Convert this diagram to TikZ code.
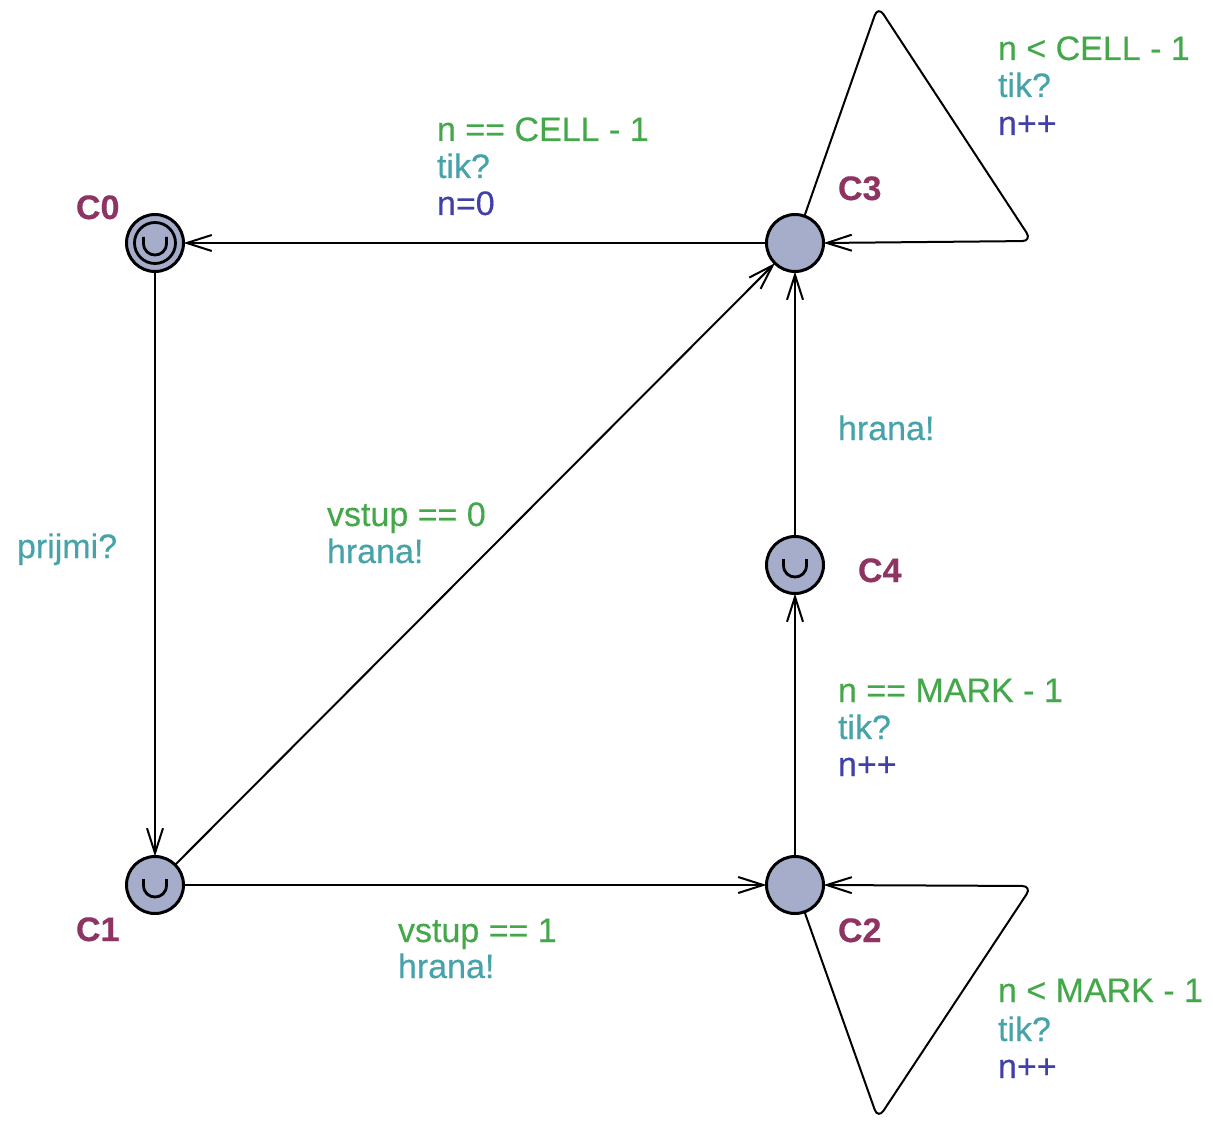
\documentclass[tikz,border=0pt]{standalone}
\usepackage{fontspec}
\setmainfont{Liberation Sans}[FakeBold=0.35]
\usetikzlibrary{arrows.meta}

\definecolor{guardc}{RGB}{68,168,74}
\definecolor{syncc}{RGB}{70,163,170}
\definecolor{updc}{RGB}{64,64,168}
\definecolor{namec}{RGB}{142,52,98}
\definecolor{locfill}{RGB}{165,173,203}

\begin{document}
\begin{tikzpicture}[x=0.5pt, y=-0.5pt,
  every node/.style={font=\fontsize{17pt}{19pt}\selectfont, inner sep=0pt, outer sep=0pt},
  loc/.style={circle, draw=black, fill=locfill, line width=1.5pt, minimum size=28.5pt},
  edge/.style={draw=black, line width=1pt, -{Straight Barb[length=12.5pt, width=8pt, line width=1pt]}},
  locsym/.style={draw=black, line width=1.4pt},
  lname/.style={anchor=base west, text=namec, font=\fontsize{17pt}{19pt}\selectfont\bfseries},
  guard/.style={anchor=base west, text=guardc},
  sync/.style={anchor=base west, text=syncc},
  upd/.style={anchor=base west, text=updc}]

  \useasboundingbox (0,0) rectangle (1213,1122);

  % locations
  \node[loc] (C0) at (155,243) {};
  \node[loc] (C3) at (795,243) {};
  \node[loc] (C4) at (795,565) {};
  \node[loc] (C1) at (155,885) {};
  \node[loc] (C2) at (795,885) {};

  % initial marker and urgent symbols
  \draw[locsym] (C0.center) circle[radius=20.5];
  \foreach \c in {C0,C1,C4}{
    \begin{scope}[shift={(\c.center)}]
      \draw[locsym] (-11.5,-6) -- (-11.5,0) .. controls (-11.5,16) and (11.5,16) .. (11.5,0) -- (11.5,-6);
    \end{scope}
  }

  % location names
  \node[lname] (nC0) at (76,219) {C0};
  \node[lname] (nC3) at (838,200) {C3};
  \node[lname] (nC4) at (858,582) {C4};
  \node[lname] (nC1) at (76,941) {C1};
  \node[lname] (nC2) at (838,942) {C2};

  % transitions
  \draw[edge] (C3) -- (C0);
  \draw[edge] (C0) -- (C1);
  \draw[edge] (C1) -- (C3);
  \draw[edge] (C1) -- (C2);
  \draw[edge] (C2) -- (C4);
  \draw[edge] (C4) -- (C3);
  \coordinate (t3) at (878,6);
  \coordinate (r3) at (1032,241);
  \draw[edge, rounded corners=5pt] (C3) -- (t3) -- (r3) -- (C3.east);
  \coordinate (t2) at (878,1119);
  \coordinate (r2) at (1032,886);
  \draw[edge, rounded corners=5pt] (C2) -- (t2) -- (r2) -- (C2.east);

  % transition labels
  \node[guard] (g30) at (437,141) {n == CELL - 1};
  \node[sync]  (s30) at (437,178) {tik?};
  \node[upd]   (u30) at (437,215) {n=0};

  \node[guard] (g33) at (998,60) {n < CELL - 1};
  \node[sync]  (s33) at (998,97) {tik?};
  \node[upd]   (u33) at (998,135) {n++};

  \node[sync]  (s01) at (17,558) {prijmi?};

  \node[guard] (g13) at (327,526) {vstup == 0};
  \node[sync]  (s13) at (327,563) {hrana!};

  \node[sync]  (s43) at (838,440) {hrana!};

  \node[guard] (g24) at (838,702) {n == MARK - 1};
  \node[sync]  (s24) at (838,739) {tik?};
  \node[upd]   (u24) at (838,776) {n++};

  \node[guard] (g12) at (398,942) {vstup == 1};
  \node[sync]  (s12) at (398,978) {hrana!};

  \node[guard] (g22) at (998,1002) {n < MARK - 1};
  \node[sync]  (s22) at (998,1041) {tik?};
  \node[upd]   (u22) at (998,1078) {n++};
\end{tikzpicture}
\end{document}
